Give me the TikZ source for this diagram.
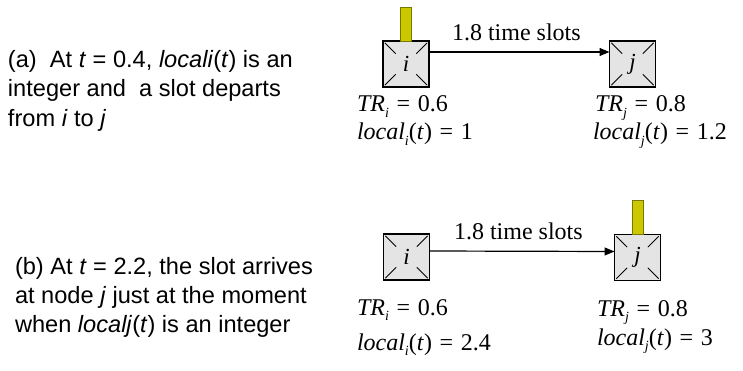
\documentclass[tikz,border=0pt]{standalone}
\usepackage{fontspec}
\setmainfont{Liberation Serif}
\newfontfamily\arialf{Liberation Sans}
\usetikzlibrary{arrows.meta,calc}
\definecolor{boxgray}{RGB}{228,228,228}
\definecolor{baryellow}{RGB}{204,200,0}
\definecolor{barolive}{RGB}{120,120,0}
\newcommand\eqsp{\hspace{0.32em}=\hspace{0.32em}}
\newcommand\subsc[1]{\raisebox{-0.24em}{\fontsize{14}{14}\selectfont\itshape #1}}
\newcommand\TRlbl[2]{\textit{TR}\subsc{#1}\eqsp #2}
\newcommand\loclbl[2]{\textit{local}\subsc{#1}(\textit{t})\eqsp #2}
\begin{document}
\begin{tikzpicture}[x=1pt,y=-1pt,
  every node/.style={inner sep=0pt, outer sep=0pt},
  nodebox/.style={draw, fill=boxgray, line width=1.2pt, minimum size=46pt,
    font=\fontsize{23}{26}\selectfont\itshape,
    path picture={
      \foreach \c in {north west,north east,south west,south east}{
        \draw[line width=0.8pt]
          ($(path picture bounding box.\c)!0.08!(path picture bounding box.center)$) --
          ($(path picture bounding box.\c)!0.55!(path picture bounding box.center)$);
      }}},
  slotbar/.style={draw=barolive, fill=baryellow, line width=0.8pt,
    minimum width=11pt, minimum height=34pt, anchor=south},
  link/.style={line width=1.2pt, -{Triangle[length=10pt,width=8pt]}},
  serif/.style={font=\fontsize{24}{28}\selectfont, anchor=base west},
  sans/.style={font=\arialf\fontsize{23.6}{28}\selectfont, anchor=base west}
]
\useasboundingbox (0,0) rectangle (743,371);

% ---------- (a) ----------
\node[sans] (a1) at (8,68) {(a)\ \ At \textit{t} = 0.4, \textit{locali}(\textit{t}) is an};
\node[sans] (a2) at (8,97) {integer and\ \ a slot departs};
\node[sans] (a3) at (8,127) {from \textit{i} to \textit{j}};

\node[nodebox] (ia) at (406,64) {i};
\node[nodebox] (ja) at (632.5,64) {j};
\node[slotbar] (bara) at (ia.north) {};
\draw[link] ([yshift=12pt]ia.east) -- ([yshift=12pt]ja.west);
\node[serif] (la) at (452,41) {1.8 time slots};

\node[serif] (tria) at (357,112) {\TRlbl{i}{0.6}};
\node[serif] (locia) at (357,140) {\loclbl{i}{1}};
\node[serif] (trja) at (595,112) {\TRlbl{j}{0.8}};
\node[serif] (locja) at (593,140) {\loclbl{j}{1.2}};

% ---------- (b) ----------
\node[sans] (b1) at (15,274) {(b) At \textit{t} = 2.2, the slot arrives};
\node[sans] (b2) at (15,303) {at node \textit{j} just at the moment};
\node[sans] (b3) at (15,332) {when \textit{localj}(\textit{t}) is an integer};

\node[nodebox] (ib) at (406.5,257) {i};
\node[nodebox] (jb) at (637.5,257.5) {j};
\node[slotbar] (barb) at (jb.north) {};
\draw[link] ([yshift=6pt]ib.east) -- ([yshift=6pt]jb.west);
\node[serif] (lb) at (454,240) {1.8 time slots};

\node[serif] (trib) at (357,315) {\TRlbl{i}{0.6}};
\node[serif] (locib) at (357,350) {\loclbl{i}{2.4}};
\node[serif] (trjb) at (597,316) {\TRlbl{j}{0.8}};
\node[serif] (locjb) at (597,345) {\loclbl{j}{3}};
\end{tikzpicture}
\end{document}
